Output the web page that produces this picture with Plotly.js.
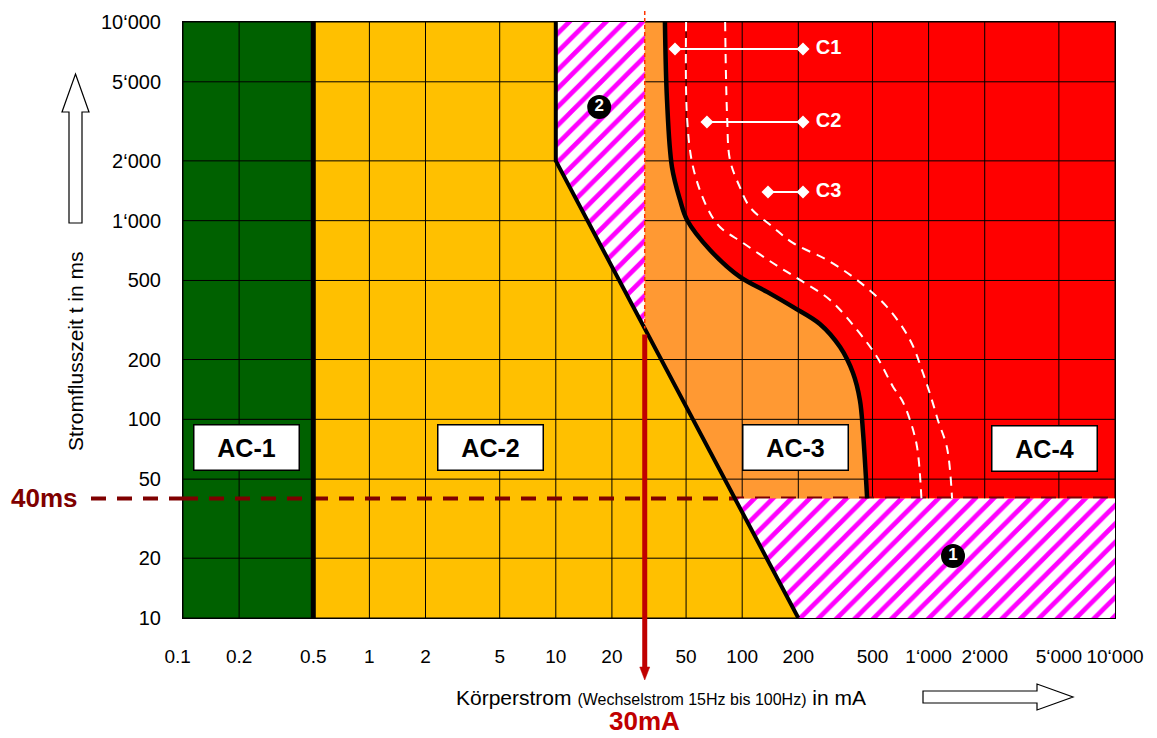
<!DOCTYPE html>
<html><head><meta charset="utf-8">
<script src="https://cdn.plot.ly/plotly-3.0.1.min.js"></script>
<style>body{margin:0;background:#fff}#chart{width:1157px;height:738px}</style>
</head><body><div id="chart"></div>
<script>
// ---------------- data ----------------
const xTickVals = [0.1,0.2,0.5,1,2,5,10,20,50,100,200,500,1000,2000,5000,10000];
const xTickText = ['0.1\u00a0\u00a0','0.2','0.5','1','2','5','10','20','50','100','200','500','1\u2018000','2\u2018000','5\u2018000','10\u2018000'];
const yTickVals = [10,20,50,100,200,500,1000,2000,5000,10000];
const yTickText = ['10','20','50','100','200','500','1\u2018000','2\u2018000','5\u2018000','10\u2018000'];

const xMin = 0.1, xMax = 10000, yMin = 10, yMax = 10000;
const curveA = 0.5;                 // mA, limit AC-1 / AC-2
const lineBx = [10, 10, 200];       // mA, curve b
const lineBy = [10000, 2000, 10];   // ms
const rcdCurrent = 30;              // mA
const rcdTime = 40;                 // ms

const c1x = [38.5, 39.5, 42, 46.4, 50.6, 67.2, 97.3, 136, 187, 261, 335, 393, 428, 445, 468];
const c1y = [10000, 4050, 1860, 1271, 1008, 712, 521, 438, 368, 302, 231, 171, 125, 85.5, 40];
const c2x = [50, 50.6, 54.5, 64.7, 76, 101, 146, 204, 296, 413, 529, 644, 719, 795, 867, 915];
const c2y = [10000, 3300, 1860, 1170, 930, 773, 612, 503, 399, 282, 206, 146, 125, 99, 72.6, 40];
const c3x = [81, 83, 86, 97, 110, 146, 187, 285, 413, 598, 795, 933, 1042, 1122, 1255, 1336];
const c3y = [10000, 3330, 2020, 1480, 1170, 929, 773, 634, 503, 368, 251, 171, 125, 99, 72, 40];

const acText = ['AC-1', 'AC-2', 'AC-3', 'AC-4'];
const acX = [0.218, 4.49, 192, 4160];
const acY = [72, 72, 72, 71];

const cLabText = ['C1', 'C2', 'C3'];
const cLabY = [7310, 3140, 1394];
const cLabX0 = [43.6, 64.7, 137.5];
const cLabX1 = [212, 212, 212];

const zoneText = ['1', '2'];
const zoneX = [1352, 17.1];
const zoneY = [20.5, 3730];

// ---------------- helpers ----------------
const L = 183, R = 1115, T = 22, B = 618, W = R - L, H = B - T;
const pX = p => (p - L) / W;          // pixel -> paper (decorations outside the plot)
const pY = p => (B - p) / H;
const lg = Math.log10;
const lx = v => (lg(v) - lg(xMin)) / (lg(xMax) - lg(xMin));
const ly = v => (lg(v) - lg(yMin)) / (lg(yMax) - lg(yMin));

function bAtX(x) {
  const x0 = lg(lineBx[1]), y0 = lg(lineBy[1]), x1 = lg(lineBx[2]), y1 = lg(lineBy[2]);
  return Math.pow(10, y0 + (lg(x) - x0) / (x1 - x0) * (y1 - y0));
}
function bAtY(y) {
  const x0 = lg(lineBx[1]), y0 = lg(lineBy[1]), x1 = lg(lineBx[2]), y1 = lg(lineBy[2]);
  return Math.pow(10, x0 + (lg(y) - y0) / (y1 - y0) * (x1 - x0));
}
const yb30 = bAtX(rcdCurrent);
const xb40 = bAtY(rcdTime);

const poly = (xs, ys, color, extra) => Object.assign({
  x: xs, y: ys, type: 'scatter', mode: 'lines', fill: 'toself',
  fillcolor: color, line: {width: 0, color: color}, hoverinfo: 'skip'
}, extra || {});
const hatch = {shape: '/', size: 13, solidity: 0.36, fgcolor: '#ff00ff', bgcolor: '#ffffff', fillmode: 'replace'};

const traces = [];
// zones
traces.push(poly([curveA, xMax, xMax, curveA], [yMin, yMin, yMax, yMax], '#FFC000'));
traces.push(poly([xMin, curveA, curveA, xMin], [yMin, yMin, yMax, yMax], '#006100'));
traces.push(poly([rcdCurrent, rcdCurrent, xb40, xMax, xMax], [yMax, yb30, rcdTime, rcdTime, yMax], '#FF0000'));
{
  const ox = [rcdCurrent, rcdCurrent, xb40].concat(c1x.slice().reverse());
  const oy = [yMax, yb30, rcdTime].concat(c1y.slice().reverse());
  traces.push(poly(ox, oy, '#FF9933'));
}
// grid
{
  const gx = [], gy = [];
  xTickVals.forEach(v => { gx.push(v, v, null); gy.push(yMin, yMax, null); });
  yTickVals.forEach(v => { gx.push(xMin, xMax, null); gy.push(v, v, null); });
  traces.push({x: gx, y: gy, type: 'scatter', mode: 'lines', line: {color: '#000', width: 1}, hoverinfo: 'skip'});
}
// 40 ms dashed line (inside plot)
traces.push({x: [xMin, xMax], y: [rcdTime, rcdTime], type: 'scatter', mode: 'lines',
  line: {color: '#7F0000', width: 4, dash: '15px,11px'}, hoverinfo: 'skip'});
// hatched zones
traces.push(poly([lineBx[0], lineBx[1], rcdCurrent, rcdCurrent], [lineBy[0], lineBy[1], yb30, yMax], '#ffffff', {fillpattern: hatch}));
traces.push(poly([xb40, lineBx[2], xMax, xMax], [rcdTime, lineBy[2], yMin, rcdTime], '#ffffff', {fillpattern: hatch}));
// boundary lines
traces.push({x: [curveA, curveA], y: [yMin, yMax], type: 'scatter', mode: 'lines', line: {color: '#000', width: 5}, hoverinfo: 'skip'});
traces.push({x: lineBx, y: lineBy, type: 'scatter', mode: 'lines', line: {color: '#000', width: 4}, hoverinfo: 'skip'});
traces.push({x: c2x, y: c2y, type: 'scatter', mode: 'lines', line: {color: '#fff', width: 2, dash: '9px,7px', shape: 'spline'}, hoverinfo: 'skip'});
traces.push({x: c3x, y: c3y, type: 'scatter', mode: 'lines', line: {color: '#fff', width: 2, dash: '9px,7px', shape: 'spline'}, hoverinfo: 'skip'});
traces.push({x: c1x, y: c1y, type: 'scatter', mode: 'lines', line: {color: '#000', width: 4.5, shape: 'spline'}, hoverinfo: 'skip'});
// C labels
cLabText.forEach((t, i) => {
  traces.push({x: [cLabX0[i], cLabX1[i]], y: [cLabY[i], cLabY[i]], type: 'scatter', mode: 'lines+markers+text',
    line: {color: '#fff', width: 2}, marker: {symbol: 'diamond', size: 10, color: '#fff'},
    text: ['', '<b>\u00a0' + t + '</b>'], textposition: 'middle right',
    textfont: {color: '#fff', size: 20, family: 'Liberation Sans, Arial, sans-serif'}, hoverinfo: 'skip'});
});
// zone markers
traces.push({x: zoneX, y: zoneY, type: 'scatter', mode: 'markers+text',
  marker: {size: 24, color: '#000'}, text: zoneText.map(t => '<b>' + t + '</b>'), textposition: 'middle center',
  textfont: {color: '#fff', size: 17, family: 'Liberation Sans, Arial, sans-serif'}, hoverinfo: 'skip'});

// ---------------- annotations ----------------
const F = 'Liberation Sans, Arial, sans-serif';
const annotations = acText.map((t, i) => ({
  x: lg(acX[i]), y: lg(acY[i]), xref: 'x', yref: 'y', text: '<b>' + t + '</b>', showarrow: false,
  bgcolor: '#fff', bordercolor: '#000', borderwidth: 1.5, borderpad: 0, width: 104, height: 44,
  font: {size: 25, color: '#000', family: F}
}));
annotations.push({x: pX(661), y: pY(697), xref: 'paper', yref: 'paper', showarrow: false,
  text: 'Körperstrom <span style="font-size:16px">(Wechselstrom 15Hz bis 100Hz)</span> in mA',
  font: {size: 21, color: '#000', family: F}, xanchor: 'center', yanchor: 'middle'});
annotations.push({x: pX(75), y: pY(351), xref: 'paper', yref: 'paper', showarrow: false, textangle: -90,
  text: 'Stromflusszeit t in ms', font: {size: 21, color: '#000', family: F}, xanchor: 'center', yanchor: 'middle'});
annotations.push({x: pX(44), y: ly(rcdTime), xref: 'paper', yref: 'paper', showarrow: false,
  text: '<b>40ms</b>', font: {size: 26, color: '#7F0000', family: F}, xanchor: 'center', yanchor: 'middle'});
annotations.push({x: lx(rcdCurrent), y: pY(737), xref: 'paper', yref: 'paper', showarrow: false,
  text: '<b>30mA</b>', font: {size: 26, color: '#C00000', family: F}, xanchor: 'center', yanchor: 'bottom', borderpad: 0});

// ---------------- shapes (decorations) ----------------
const path = pts => 'M' + pts.map(p => pX(p[0]) + ',' + pY(p[1])).join(' L') + ' Z';
const xr = lx(rcdCurrent);
const shapes = [
  {type: 'line', xref: 'paper', yref: 'paper', x0: pX(91), x1: pX(L), y0: ly(rcdTime), y1: ly(rcdTime),
   line: {color: '#7F0000', width: 4, dash: '15px,11px'}},
  {type: 'line', xref: 'paper', yref: 'paper', x0: xr, x1: xr, y0: pY(11), y1: ly(yb30),
   line: {color: '#FF3300', width: 1.5, dash: '4px,3px'}},
  {type: 'line', xref: 'paper', yref: 'paper', x0: xr, x1: xr, y0: ly(yb30) - 0.01, y1: pY(668),
   line: {color: '#C00000', width: 5}},
  {type: 'path', xref: 'paper', yref: 'paper',
   path: 'M' + (xr - 5 / W) + ',' + pY(667) + ' L' + (xr + 5 / W) + ',' + pY(667) + ' L' + xr + ',' + pY(680) + ' Z',
   fillcolor: '#C00000', line: {color: '#C00000', width: 0.5}},
  {type: 'path', xref: 'paper', yref: 'paper', fillcolor: '#fff', line: {color: '#000', width: 1.2},
   path: path([[75.5, 74], [89, 112], [82, 112], [82, 223], [69, 223], [69, 112], [62, 112]])},
  {type: 'path', xref: 'paper', yref: 'paper', fillcolor: '#fff', line: {color: '#000', width: 1.2},
   path: path([[923, 691], [1037, 691], [1037, 684], [1073, 697], [1037, 710], [1037, 703], [923, 703]])}
];

const axisCommon = {type: 'log', showgrid: false, zeroline: false, showline: true, mirror: true,
  linecolor: '#000', linewidth: 1, ticks: 'outside', tickcolor: 'rgba(0,0,0,0)',
  tickfont: {size: 20, color: '#000', family: F}, fixedrange: true};

const layout = {
  width: 1157, height: 738, margin: {l: L, r: 1157 - R, t: T, b: 738 - B},
  paper_bgcolor: '#fff', plot_bgcolor: '#fff', showlegend: false,
  font: {family: F, color: '#000'},
  xaxis: Object.assign({}, axisCommon, {range: [lg(xMin), lg(xMax)], tickvals: xTickVals, ticktext: xTickText, ticklen: 21, tickangle: 0,
    tickfont: {size: 19, color: '#000', family: F}}),
  yaxis: Object.assign({}, axisCommon, {range: [lg(yMin), lg(yMax)], tickvals: yTickVals, ticktext: yTickText, ticklen: 17}),
  annotations: annotations, shapes: shapes
};

Plotly.newPlot('chart', traces, layout, {displayModeBar: false, staticPlot: true});
</script></body></html>
